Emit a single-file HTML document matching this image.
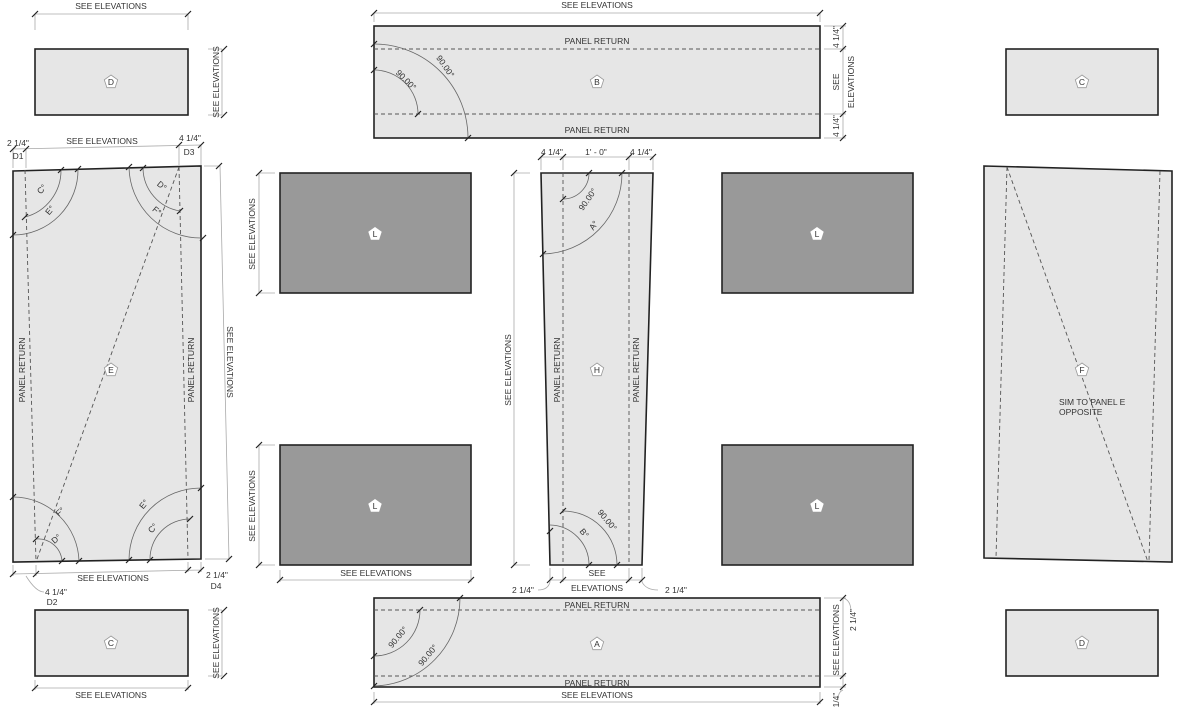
<!DOCTYPE html>
<html><head><meta charset="utf-8"><style>
html,body{margin:0;padding:0;background:#fff;}
svg{display:block;}
text{font-family:"Liberation Sans",sans-serif;font-size:8.5px;fill:#333;}
.p{fill:#e6e6e6;stroke:#222;stroke-width:1.6;}
.L{fill:#999;stroke:#222;stroke-width:1.6;}
.d{fill:none;stroke:#555;stroke-width:0.9;stroke-dasharray:4,3;}
.a{fill:none;stroke:#666;stroke-width:0.8;}
.dm{fill:none;stroke:#aaa;stroke-width:0.8;}
.t{stroke:#222;stroke-width:1.2;}
.pg{fill:#fff;stroke:#999;stroke-width:0.8;}
.pl{fill:#fff;stroke:none;}
</style></head><body>
<svg width="1200" height="707" viewBox="0 0 1200 707">
<defs>
<path id="pent" d="M0,-7 L6.7,-2.2 L4.1,5.7 L-4.1,5.7 L-6.7,-2.2 Z"/>
<path id="tk" d="M-3,3 L3,-3"/>
</defs>

<!-- Panel D top-left -->
<rect class="p" x="35" y="49" width="153" height="66"/>
<use href="#pent" class="pg" x="111" y="82"/><text x="111" y="85" text-anchor="middle" font-size="7">D</text>
<path class="dm" d="M35,14 H188 M35,14 V30 M188,14 V30"/>
<use href="#tk" class="t" x="35" y="14"/><use href="#tk" class="t" x="188" y="14"/>
<text x="111" y="9" text-anchor="middle">SEE ELEVATIONS</text>
<path class="dm" d="M222,49 V115 M208,49 H222 M208,115 H222"/>
<use href="#tk" class="t" x="224" y="49"/><use href="#tk" class="t" x="224" y="115"/>
<text transform="translate(219,82) rotate(-90)" text-anchor="middle">SEE ELEVATIONS</text>

<!-- Panel B -->
<rect class="p" x="374" y="26" width="446" height="112"/>
<path class="d" d="M374,49 H820 M374,114 H820"/>
<text x="597" y="44" text-anchor="middle">PANEL RETURN</text>
<text x="597" y="133" text-anchor="middle">PANEL RETURN</text>
<use href="#pent" class="pg" x="597" y="82"/><text x="597" y="85" text-anchor="middle" font-size="7">B</text>
<path class="a" d="M374,70 A44,44 0 0 1 418,114 M374,44 A94,94 0 0 1 468,138"/>
<use href="#tk" class="t" x="374" y="70"/><use href="#tk" class="t" x="418" y="114"/><use href="#tk" class="t" x="374" y="44"/><use href="#tk" class="t" x="468" y="138"/>
<text transform="translate(404,82) rotate(45)" text-anchor="middle">90.00°</text>
<text transform="translate(443,68) rotate(55)" text-anchor="middle">90.00°</text>
<path class="dm" d="M374,13 H820 M374,13 V22 M820,13 V22"/>
<use href="#tk" class="t" x="374" y="13"/><use href="#tk" class="t" x="820" y="13"/>
<text x="597" y="8" text-anchor="middle">SEE ELEVATIONS</text>
<path class="dm" d="M843,26 V138 M824,26 H846 M824,49 H846 M824,114 H846 M824,138 H846"/>
<use href="#tk" class="t" x="843" y="26"/><use href="#tk" class="t" x="843" y="49"/><use href="#tk" class="t" x="843" y="114"/><use href="#tk" class="t" x="843" y="138"/>
<text transform="translate(839,37) rotate(-90)" text-anchor="middle">4 1/4"</text>
<text transform="translate(839,126) rotate(-90)" text-anchor="middle">4 1/4"</text>
<text transform="translate(839,82) rotate(-90)" text-anchor="middle">SEE</text>
<text transform="translate(854,82) rotate(-90)" text-anchor="middle">ELEVATIONS</text>

<!-- Panel C top-right -->
<rect class="p" x="1006" y="49" width="152" height="66"/>
<use href="#pent" class="pg" x="1082" y="82"/><text x="1082" y="85" text-anchor="middle" font-size="7">C</text>

<!-- Panel E -->
<polygon class="p" points="13,171 201,166 201,559 13,562"/>
<path class="d" d="M25,170 L36,562 M179,167 L188,559 M179,167 L36,562"/>
<text transform="translate(25,370) rotate(-90)" text-anchor="middle">PANEL RETURN</text>
<text transform="translate(194,370) rotate(-90)" text-anchor="middle">PANEL RETURN</text>
<use href="#pent" class="pg" x="111" y="370"/><text x="111" y="373" text-anchor="middle" font-size="7">E</text>
<path class="a" d="M61,170 A48,48 0 0 1 25,217 M78,169 A65,65 0 0 1 13,235"/>
<path class="a" d="M143,168 A44,44 0 0 0 180,211 M129,167 A72,72 0 0 0 203,238"/>
<path class="a" d="M36,539 A24,24 0 0 1 62,561 M13,497 A66,66 0 0 1 79,561"/>
<path class="a" d="M150,560 A40,40 0 0 1 190,519 M129,560 A72,72 0 0 1 201,488"/>
<use href="#tk" class="t" x="61" y="170"/><use href="#tk" class="t" x="25" y="217"/><use href="#tk" class="t" x="78" y="169"/><use href="#tk" class="t" x="13" y="235"/>
<use href="#tk" class="t" x="143" y="168"/><use href="#tk" class="t" x="180" y="211"/><use href="#tk" class="t" x="129" y="167"/><use href="#tk" class="t" x="203" y="238"/>
<use href="#tk" class="t" x="36" y="539"/><use href="#tk" class="t" x="62" y="561"/><use href="#tk" class="t" x="13" y="497"/><use href="#tk" class="t" x="79" y="561"/>
<use href="#tk" class="t" x="150" y="560"/><use href="#tk" class="t" x="190" y="519"/><use href="#tk" class="t" x="129" y="560"/><use href="#tk" class="t" x="201" y="488"/>
<text transform="translate(44,191) rotate(-50)" text-anchor="middle">C°</text>
<text transform="translate(52,212) rotate(-50)" text-anchor="middle">E°</text>
<text transform="translate(160,188) rotate(40)" text-anchor="middle">D°</text>
<text transform="translate(155,213) rotate(40)" text-anchor="middle">F°</text>
<text transform="translate(62,514) rotate(-40)" text-anchor="middle">F°</text>
<text transform="translate(58,541) rotate(-40)" text-anchor="middle">D°</text>
<text transform="translate(146,506) rotate(-50)" text-anchor="middle">E°</text>
<text transform="translate(155,530) rotate(-50)" text-anchor="middle">C°</text>
<path class="dm" d="M13,149 L201,145 M13,149 V168 M26,149 V168 M179,145 V165 M201,145 V165"/>
<use href="#tk" class="t" x="13" y="149"/><use href="#tk" class="t" x="26" y="149"/><use href="#tk" class="t" x="179" y="145"/><use href="#tk" class="t" x="201" y="145"/>
<text x="102" y="144" text-anchor="middle">SEE ELEVATIONS</text>
<text x="18" y="146" text-anchor="middle">2 1/4"</text>
<text x="190" y="141" text-anchor="middle">4 1/4"</text>
<text x="18" y="159" text-anchor="middle">D1</text>
<text x="189" y="155" text-anchor="middle">D3</text>
<path class="dm" d="M204,166 H220 L229,559 M205,559 H229"/>
<use href="#tk" class="t" x="219" y="166"/><use href="#tk" class="t" x="229" y="559"/>
<text transform="translate(227,362) rotate(90)" text-anchor="middle">SEE ELEVATIONS</text>
<path class="dm" d="M13,574 L201,570 M13,565 V576 M36,565 V576 M188,562 V572 M201,562 V572 M26,576 Q36,592 44,592"/>
<use href="#tk" class="t" x="13" y="574"/><use href="#tk" class="t" x="36" y="574"/><use href="#tk" class="t" x="188" y="570"/><use href="#tk" class="t" x="201" y="570"/>
<text x="113" y="581" text-anchor="middle">SEE ELEVATIONS</text>
<text x="217" y="578" text-anchor="middle">2 1/4"</text>
<text x="216" y="589" text-anchor="middle">D4</text>
<text x="56" y="595" text-anchor="middle">4 1/4"</text>
<text x="52" y="605" text-anchor="middle">D2</text>

<!-- Panel C bottom-left -->
<rect class="p" x="35" y="610" width="153" height="66"/>
<use href="#pent" class="pg" x="111" y="643"/><text x="111" y="646" text-anchor="middle" font-size="7">C</text>
<path class="dm" d="M35,688 H188 M35,680 V690 M188,680 V690"/>
<use href="#tk" class="t" x="35" y="688"/><use href="#tk" class="t" x="188" y="688"/>
<text x="111" y="698" text-anchor="middle">SEE ELEVATIONS</text>
<path class="dm" d="M222,610 V676 M208,610 H222 M208,676 H222"/>
<use href="#tk" class="t" x="224" y="610"/><use href="#tk" class="t" x="224" y="676"/>
<text transform="translate(219,643) rotate(-90)" text-anchor="middle">SEE ELEVATIONS</text>

<!-- L panels -->
<rect class="L" x="280" y="173" width="191" height="120"/>
<rect class="L" x="722" y="173" width="191" height="120"/>
<rect class="L" x="280" y="445" width="191" height="120"/>
<rect class="L" x="722" y="445" width="191" height="120"/>
<use href="#pent" class="pl" x="375" y="234"/><text x="375" y="237" text-anchor="middle" font-size="7">L</text>
<use href="#pent" class="pl" x="817" y="234"/><text x="817" y="237" text-anchor="middle" font-size="7">L</text>
<use href="#pent" class="pl" x="375" y="506"/><text x="375" y="509" text-anchor="middle" font-size="7">L</text>
<use href="#pent" class="pl" x="817" y="506"/><text x="817" y="509" text-anchor="middle" font-size="7">L</text>
<path class="dm" d="M259,173 V293 M259,173 H275 M259,293 H275 M259,445 V565 M259,445 H275 M259,565 H275 M280,580 H471 M280,570 V582 M471,570 V582"/>
<use href="#tk" class="t" x="259" y="173"/><use href="#tk" class="t" x="259" y="293"/><use href="#tk" class="t" x="259" y="445"/><use href="#tk" class="t" x="259" y="565"/>
<use href="#tk" class="t" x="280" y="580"/><use href="#tk" class="t" x="471" y="580"/>
<text transform="translate(255,234) rotate(-90)" text-anchor="middle">SEE ELEVATIONS</text>
<text transform="translate(255,506) rotate(-90)" text-anchor="middle">SEE ELEVATIONS</text>
<text x="376" y="576" text-anchor="middle">SEE ELEVATIONS</text>

<!-- Panel H -->
<polygon class="p" points="541,173 653,173 642,565 550,565"/>
<path class="d" d="M563,173 V565 M629,173 V565"/>
<text transform="translate(560,370) rotate(-90)" text-anchor="middle">PANEL RETURN</text>
<text transform="translate(639,370) rotate(-90)" text-anchor="middle">PANEL RETURN</text>
<use href="#pent" class="pg" x="597" y="370"/><text x="597" y="373" text-anchor="middle" font-size="7">H</text>
<path class="a" d="M589,173 A26,26 0 0 1 563,199 M622,173 A81,81 0 0 1 543,254"/>
<path class="a" d="M563,511 A54,54 0 0 1 617,565 M550,525 A40,40 0 0 1 589,565"/>
<use href="#tk" class="t" x="589" y="173"/><use href="#tk" class="t" x="563" y="199"/><use href="#tk" class="t" x="622" y="173"/><use href="#tk" class="t" x="543" y="254"/>
<use href="#tk" class="t" x="563" y="511"/><use href="#tk" class="t" x="617" y="565"/><use href="#tk" class="t" x="550" y="531"/><use href="#tk" class="t" x="589" y="565"/>
<text transform="translate(590,201) rotate(-55)" text-anchor="middle">90.00°</text>
<text transform="translate(596,227) rotate(-55)" text-anchor="middle">A°</text>
<text transform="translate(605,522) rotate(50)" text-anchor="middle">90.00°</text>
<text transform="translate(582,535) rotate(50)" text-anchor="middle">B°</text>
<path class="dm" d="M541,157 H653 M541,157 V170 M563,157 V170 M629,157 V170 M653,157 V170"/>
<use href="#tk" class="t" x="541" y="157"/><use href="#tk" class="t" x="563" y="157"/><use href="#tk" class="t" x="629" y="157"/><use href="#tk" class="t" x="653" y="157"/>
<text x="552" y="155" text-anchor="middle">4 1/4"</text>
<text x="596" y="155" text-anchor="middle">1' - 0"</text>
<text x="641" y="155" text-anchor="middle">4 1/4"</text>
<path class="dm" d="M514,173 V565 M514,173 H530 M514,565 H530"/>
<use href="#tk" class="t" x="514" y="173"/><use href="#tk" class="t" x="514" y="565"/>
<text transform="translate(511,370) rotate(-90)" text-anchor="middle">SEE ELEVATIONS</text>
<path class="dm" d="M550,568 V582 M563,568 V582 M629,568 V582 M642,568 V582 M550,580 H642 M550,582 Q548,590 538,590 M642,582 Q646,590 658,590"/>
<use href="#tk" class="t" x="550" y="580"/><use href="#tk" class="t" x="563" y="580"/><use href="#tk" class="t" x="629" y="580"/><use href="#tk" class="t" x="642" y="580"/>
<text x="597" y="576" text-anchor="middle">SEE</text>
<text x="597" y="591" text-anchor="middle">ELEVATIONS</text>
<text x="523" y="593" text-anchor="middle">2 1/4"</text>
<text x="676" y="593" text-anchor="middle">2 1/4"</text>

<!-- Panel A -->
<rect class="p" x="374" y="598" width="446" height="89"/>
<path class="d" d="M374,610 H820 M374,676 H820"/>
<text x="597" y="608" text-anchor="middle">PANEL RETURN</text>
<text x="597" y="686" text-anchor="middle">PANEL RETURN</text>
<use href="#pent" class="pg" x="597" y="644"/><text x="597" y="647" text-anchor="middle" font-size="7">A</text>
<path class="a" d="M420,610 A46,46 0 0 1 374,656 M460,598 A88,88 0 0 1 374,686"/>
<use href="#tk" class="t" x="420" y="610"/><use href="#tk" class="t" x="374" y="656"/><use href="#tk" class="t" x="460" y="598"/><use href="#tk" class="t" x="374" y="686"/>
<text transform="translate(400,639) rotate(-50)" text-anchor="middle">90.00°</text>
<text transform="translate(430,657) rotate(-50)" text-anchor="middle">90.00°</text>
<path class="dm" d="M374,702 H820 M374,692 V704 M820,692 V704"/>
<use href="#tk" class="t" x="374" y="702"/><use href="#tk" class="t" x="820" y="702"/>
<text x="597" y="698" text-anchor="middle">SEE ELEVATIONS</text>
<path class="dm" d="M843,598 V687 M824,598 H846 M824,676 H846 M824,687 H846 M843,598 Q851,600 851,612 M843,690 Q838,692 838,700"/>
<use href="#tk" class="t" x="843" y="598"/><use href="#tk" class="t" x="843" y="676"/><use href="#tk" class="t" x="843" y="687"/>
<text transform="translate(839,640) rotate(-90)" text-anchor="middle">SEE ELEVATIONS</text>
<text transform="translate(856,620) rotate(-90)" text-anchor="middle">2 1/4"</text>
<text transform="translate(839,700) rotate(-90)" text-anchor="middle">1/4"</text>

<!-- Panel F -->
<polygon class="p" points="984,166 1172,171 1172,562 984,558"/>
<path class="d" d="M1007,167 L996,558 M1160,171 L1149,561 M1007,167 L1148,562"/>
<use href="#pent" class="pg" x="1082" y="370"/><text x="1082" y="373" text-anchor="middle" font-size="7">F</text>
<text x="1059" y="405">SIM TO PANEL E</text>
<text x="1059" y="415">OPPOSITE</text>

<!-- Panel D bottom-right -->
<rect class="p" x="1006" y="610" width="152" height="66"/>
<use href="#pent" class="pg" x="1082" y="643"/><text x="1082" y="646" text-anchor="middle" font-size="7">D</text>
</svg>
</body></html>
